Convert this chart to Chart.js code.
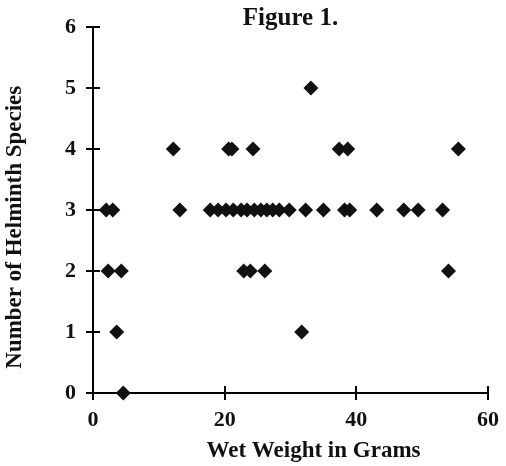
<!DOCTYPE html>
<html>
<head>
<meta charset="utf-8">
<script src="https://cdn.jsdelivr.net/npm/chart.js@4"></script>
<style>
  html, body { margin: 0; padding: 0; background: #ffffff; }
  #wrap { width: 506px; height: 466px; }
</style>
</head>
<body>
<div id="wrap"><canvas id="c" width="506" height="466"></canvas></div>
<script>
// Wet weight (g) and number of helminth species
const wetWeight = [
  4.6,
  3.6, 31.7,
  2.3, 4.3, 22.9, 23.9, 26.1, 54.0,
  2.0, 3.0, 13.2, 17.8, 19.0, 20.2, 21.3, 22.5, 23.4, 24.5, 25.5, 26.4, 27.3, 28.3, 29.8, 32.3, 35.0, 38.2, 39.0, 43.1, 47.2, 49.4, 53.1,
  12.2, 20.6, 21.1, 24.3, 37.4, 38.7, 55.5,
  33.1
];
const speciesCount = [
  0,
  1, 1,
  2, 2, 2, 2, 2, 2,
  3, 3, 3, 3, 3, 3, 3, 3, 3, 3, 3, 3, 3, 3, 3, 3, 3, 3, 3, 3, 3, 3, 3,
  4, 4, 4, 4, 4, 4, 4,
  5
];
const xTicks = [0, 20, 40, 60];
const yTicks = [0, 1, 2, 3, 4, 5, 6];
const titleText = 'Figure 1.';
const xTitle = 'Wet Weight in Grams';
const yTitle = 'Number of Helminth Species';

const points = wetWeight.map((w, i) => ({ x: w, y: speciesCount[i] }));
const FONT = "'Liberation Serif', 'Times New Roman', serif";

// draws the inner half of the tick marks so they cross the axes
const crossTicks = {
  id: 'crossTicks',
  afterDatasetsDraw(chart) {
    const ctx = chart.ctx;
    const xs = chart.scales.x, ys = chart.scales.y;
    const len = 7;
    ctx.save();
    ctx.strokeStyle = '#000';
    ctx.lineWidth = 2;
    ctx.beginPath();
    yTicks.forEach(v => {
      const p = Math.round(ys.getPixelForValue(v));
      ctx.moveTo(xs.left, p);
      ctx.lineTo(xs.left + len, p);
    });
    xTicks.forEach(v => {
      const p = Math.round(xs.getPixelForValue(v));
      ctx.moveTo(p, ys.bottom);
      ctx.lineTo(p, ys.bottom - len);
    });
    ctx.stroke();
    ctx.restore();
  }
};

new Chart(document.getElementById('c'), {
  type: 'scatter',
  data: {
    datasets: [{
      data: points,
      pointStyle: 'rectRot',
      pointRadius: 7.5,
      pointHoverRadius: 7.5,
      backgroundColor: '#111',
      borderColor: '#111',
      borderWidth: 0,
      clip: false
    }]
  },
  options: {
    responsive: false,
    animation: false,
    layout: { padding: { left: 0, right: 10, top: 0, bottom: 0 } },
    plugins: {
      legend: { display: false },
      tooltip: { enabled: false },
      title: {
        display: true,
        text: titleText,
        fullSize: false,
        color: '#111',
        font: { family: FONT, size: 25, weight: 'bold' },
        padding: { top: 4, bottom: -7 }
      }
    },
    scales: {
      x: {
        type: 'linear',
        min: 0, max: 60,
        afterBuildTicks(s) { s.ticks = xTicks.map(v => ({ value: v })); },
        afterFit(s) { s.height = 73; },
        ticks: {
          color: '#111',
          font: { family: FONT, size: 22, weight: 'bold' },
          padding: 7,
          maxRotation: 0
        },
        grid: { drawOnChartArea: false, drawTicks: true, tickLength: 7, color: '#000', lineWidth: 2 },
        border: { display: true, color: '#000', width: 2 },
        title: {
          display: true,
          text: '        ' + xTitle,
          color: '#111',
          font: { family: FONT, size: 23, weight: 'bold' },
          padding: { top: 0, bottom: 1 }
        }
      },
      y: {
        type: 'linear',
        min: 0, max: 6,
        afterBuildTicks(s) { s.ticks = yTicks.map(v => ({ value: v })); },
        afterFit(s) { s.width = 93; },
        ticks: {
          color: '#111',
          font: { family: FONT, size: 22, weight: 'bold' },
          padding: 10
        },
        grid: { drawOnChartArea: false, drawTicks: true, tickLength: 7, color: '#000', lineWidth: 2 },
        border: { display: true, color: '#000', width: 2 },
        title: {
          display: true,
          text: yTitle + '      ',
          color: '#111',
          font: { family: FONT, size: 23, weight: 'bold' },
          padding: { top: 1, bottom: 0 }
        }
      }
    }
  },
  plugins: [crossTicks]
});
</script>
</body>
</html>
